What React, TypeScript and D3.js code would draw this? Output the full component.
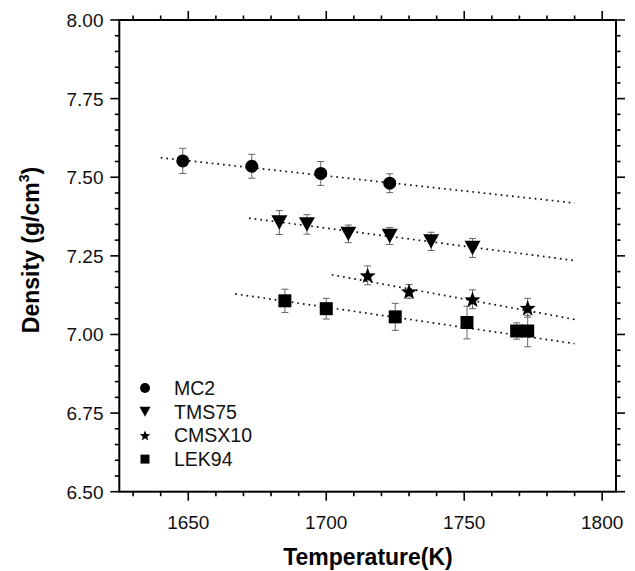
import React from "react";
import * as d3 from "d3";

const W = 635;
const H = 571;

const xDomain = [1625, 1805];
const yDomain = [6.5, 8.0];
const xTicks = [1650, 1700, 1750, 1800];
const yTicks = [6.5, 6.75, 7.0, 7.25, 7.5, 7.75, 8.0];
const xMinorStep = 10;
const yMinorStep = 0.05;

const seriesNames = ["MC2", "TMS75", "CMSX10", "LEK94"];

const mc2T = [1648, 1673, 1698, 1723];
const mc2D = [7.552, 7.535, 7.512, 7.481];
const mc2E = [0.04, 0.038, 0.038, 0.03];

const tmsT = [1683, 1693, 1708, 1723, 1738, 1753];
const tmsD = [7.356, 7.35, 7.32, 7.313, 7.296, 7.275];
const tmsE = [0.038, 0.031, 0.028, 0.027, 0.029, 0.03];

const cmsT = [1715, 1730, 1753, 1773];
const cmsD = [7.188, 7.137, 7.112, 7.085];
const cmsE = [0.03, 0.022, 0.03, 0.03];

const lekT = [1685, 1700, 1725, 1751, 1769, 1773];
const lekD = [7.107, 7.082, 7.056, 7.038, 7.011, 7.011];
const lekE = [0.037, 0.033, 0.043, 0.052, 0.026, 0.05];

// fit line endpoints [T, density]
const mc2Fit = [[1640, 7.562], [1790, 7.418]];
const tmsFit = [[1672, 7.37], [1790, 7.235]];
const cmsFit = [[1702, 7.19], [1790, 7.048]];
const lekFit = [[1667, 7.129], [1790, 6.971]];

const M = { left: 119.3, right: 616, top: 20, bottom: 491.7 };

const x = d3.scaleLinear().domain(xDomain).range([M.left, M.right]);
const y = d3.scaleLinear().domain(yDomain).range([M.bottom, M.top]);

type Shape = "circle" | "triangle" | "star" | "square";

function markerPath(shape: Shape, size: number): string {
  if (shape === "circle") {
    const r = size / 2;
    return `M${-r},0A${r},${r} 0 1,0 ${r},0A${r},${r} 0 1,0 ${-r},0Z`;
  }
  if (shape === "triangle") {
    const w = size / 2;
    const h = size * 0.9;
    return `M${-w},${-h / 2}L${w},${-h / 2}L0,${h / 2}Z`;
  }
  if (shape === "square") {
    const s = size / 2;
    return `M${-s},${-s}H${s}V${s}H${-s}Z`;
  }
  const R = size / 2;
  const r = R * 0.42;
  const pts: string[] = [];
  for (let i = 0; i < 10; i++) {
    const a = -Math.PI / 2 + (i * Math.PI) / 5;
    const rr = i % 2 === 0 ? R : r;
    pts.push(`${(rr * Math.cos(a)).toFixed(2)},${(rr * Math.sin(a) + R * 0.1).toFixed(2)}`);
  }
  return "M" + pts.join("L") + "Z";
}

const series = [
  { name: seriesNames[0], T: mc2T, D: mc2D, E: mc2E, fit: mc2Fit, shape: "circle" as Shape, size: 13, lsize: 10 },
  { name: seriesNames[1], T: tmsT, D: tmsD, E: tmsE, fit: tmsFit, shape: "triangle" as Shape, size: 16, lsize: 11 },
  { name: seriesNames[2], T: cmsT, D: cmsD, E: cmsE, fit: cmsFit, shape: "star" as Shape, size: 17, lsize: 11 },
  { name: seriesNames[3], T: lekT, D: lekD, E: lekE, fit: lekFit, shape: "square" as Shape, size: 13, lsize: 9 },
];

export default function App() {
  const xMinor = d3.range(1630, 1805, xMinorStep).filter((v) => !xTicks.includes(v));
  const yMinor = d3
    .range(6.5, 8.0001, yMinorStep)
    .map((v) => Math.round(v * 100) / 100)
    .filter((v) => !yTicks.some((t) => Math.abs(t - v) < 1e-6));
  const line = d3
    .line<number[]>()
    .x((d) => x(d[0]))
    .y((d) => y(d[1]));
  const fmt = d3.format(".2f");
  const font = "'Liberation Sans', Arial, sans-serif";
  const major = 9;
  const minor = 4.5;

  return (
    <svg
      width={W}
      height={H}
      style={{ position: "absolute", left: 0, top: 0, background: "#fff" }}
      fontFamily={font}
    >
      <rect x={0} y={0} width={W} height={H} fill="#fff" />
      {/* fit lines */}
      {series.map((s) => (
        <path
          key={"fit" + s.name}
          d={line(s.fit) || ""}
          fill="none"
          stroke="#111"
          strokeWidth={1.7}
          strokeDasharray="1.7 4"
        />
      ))}
      {/* error bars */}
      {series.map((s) =>
        s.T.map((t, i) => {
          const cx = x(t);
          const y1 = y(s.D[i] + s.E[i]);
          const y2 = y(s.D[i] - s.E[i]);
          return (
            <g key={"e" + s.name + i} stroke="#666" strokeWidth={1}>
              <line x1={cx} x2={cx} y1={y1} y2={y2} />
              <line x1={cx - 3.5} x2={cx + 3.5} y1={y1} y2={y1} />
              <line x1={cx - 3.5} x2={cx + 3.5} y1={y2} y2={y2} />
            </g>
          );
        })
      )}
      {/* markers */}
      {series.map((s) =>
        s.T.map((t, i) => (
          <path
            key={"m" + s.name + i}
            d={markerPath(s.shape, s.size)}
            transform={`translate(${x(t)},${y(s.D[i])})`}
            fill="#000"
          />
        ))
      )}
      {/* frame */}
      <rect
        x={M.left}
        y={M.top}
        width={M.right - M.left}
        height={M.bottom - M.top}
        fill="none"
        stroke="#000"
        strokeWidth={2}
      />
      {/* x ticks bottom and top */}
      <g stroke="#000" strokeWidth={1.6}>
        {xTicks.map((t) => (
          <g key={"xt" + t}>
            <line x1={x(t)} x2={x(t)} y1={M.bottom} y2={M.bottom + major} />
            <line x1={x(t)} x2={x(t)} y1={M.top} y2={M.top - major} />
          </g>
        ))}
        {xMinor.map((t) => (
          <g key={"xm" + t}>
            <line x1={x(t)} x2={x(t)} y1={M.bottom} y2={M.bottom + minor} />
            <line x1={x(t)} x2={x(t)} y1={M.top} y2={M.top - minor} />
          </g>
        ))}
        {yTicks.map((t) => (
          <g key={"yt" + t}>
            <line x1={M.left} x2={M.left - major} y1={y(t)} y2={y(t)} />
            <line x1={M.right} x2={M.right + major} y1={y(t)} y2={y(t)} />
          </g>
        ))}
        {yMinor.map((t) => (
          <g key={"ym" + t}>
            <line x1={M.left} x2={M.left - minor} y1={y(t)} y2={y(t)} />
            <line x1={M.right} x2={M.right + minor} y1={y(t)} y2={y(t)} />
          </g>
        ))}
      </g>
      {/* tick labels */}
      {xTicks.map((t) => (
        <text key={"xl" + t} x={x(t)} y={528.5} textAnchor="middle" fontSize={19} fill="#111">
          {t}
        </text>
      ))}
      {yTicks.map((t) => (
        <text
          key={"yl" + t}
          x={103.5}
          y={y(t) + 7}
          textAnchor="end"
          fontSize={19}
          fill="#111"
        >
          {fmt(t)}
        </text>
      ))}
      {/* axis titles */}
      <text x={368} y={565} textAnchor="middle" fontSize={23} fontWeight="bold" fill="#000">
        Temperature(K)
      </text>
      <text
        transform={`translate(38.5,250) rotate(-90)`}
        textAnchor="middle"
        fontSize={23}
        fontWeight="bold"
        fill="#000"
      >
        Density (g/cm
        <tspan fontSize={14} dy={-10}>
          3
        </tspan>
        <tspan dy={10}>)</tspan>
      </text>
      {/* legend */}
      {series.map((s, i) => {
        const ly = 388 + i * 23.7;
        return (
          <g key={"lg" + s.name}>
            <path d={markerPath(s.shape, s.lsize)} transform={`translate(145,${ly})`} fill="#000" />
            <text x={174} y={ly + 7} fontSize={19.5} fill="#111">
              {s.name}
            </text>
          </g>
        );
      })}
    </svg>
  );
}
